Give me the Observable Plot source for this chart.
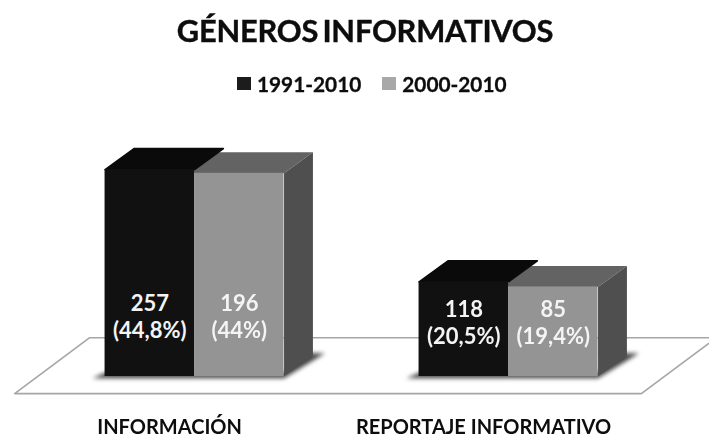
<!DOCTYPE html>
<html><head><meta charset="utf-8">
<script src="https://cdn.jsdelivr.net/npm/d3@7"></script>
<script src="https://cdn.jsdelivr.net/npm/@observablehq/plot@0.6"></script>
<style>
html,body{margin:0;padding:0;background:#fff;width:709px;height:438px;overflow:hidden}
#wrap{filter:blur(0.6px);font-family:Lato,sans-serif;color:#0d0d0d;font-weight:700}
#title{position:absolute;left:0;width:730px;top:12px;text-align:center;font-size:30.8px;font-weight:700;line-height:38px;word-spacing:-3px;letter-spacing:-.2px;-webkit-text-stroke:.4px #0d0d0d}
#legend{position:absolute;top:70px;left:237px;height:26px;display:flex;align-items:center;font-size:20.8px;-webkit-text-stroke:.3px #0d0d0d}
#legend i{display:inline-block;width:14px;height:13px;margin-right:6px}
#legend span{margin-right:21px}
#chart{position:absolute;left:0;top:110px}
#chart svg text{paint-order:stroke}
svg{display:block}
</style></head><body>
<div id="wrap">
<div id="title"></div>
<div id="legend"></div>
<div id="chart"></div>
</div>
<script>
const titleText = "GÉNEROS INFORMATIVOS";
const categories = ["INFORMACIÓN", "REPORTAJE INFORMATIVO"];
const seriesNames = ["1991-2010", "2000-2010"];
const counts1991 = [257, 118];
const counts2000 = [196, 85];
const pct1991 = [44.8, 20.5];
const pct2000 = [44, 19.4];
const pctLabels1991 = ["44,8%", "20,5%"];
const pctLabels2000 = ["44%", "19,4%"];
const colFront = ["#111111", "#949494"];
const colTop = ["#0a0a0a", "#636363"];
const colSide = ["#111111", "#4f4f4f"];

document.getElementById("title").textContent = titleText;
document.getElementById("legend").innerHTML = seriesNames.map((s, i) =>
  `<i style="background:${i ? "#a8a8a8" : "#1c1c1c"}"></i><span>${s}</span>`).join("");

const barW = 0.285, depthX = 0.092, depthY = 4.55, underlap = 0.02;
const bars = [];
categories.forEach((c, i) => {
  bars.push({cat: i, s: 0, x1: i - barW, x2: i, pct: pct1991[i], count: counts1991[i], label: pctLabels1991[i]});
  bars.push({cat: i, s: 1, x1: i, x2: i + barW, pct: pct2000[i], count: counts2000[i], label: pctLabels2000[i]});
});
const poly = (id, fill, stroke, pts) => pts.map(([x, y]) => ({id, fill, stroke, x, y}));
const faces = [];
for (const s of [1, 0]) for (const b of bars.filter(d => d.s === s)) {
  const id = `${b.cat}-${s}`;
  const left = s ? b.x1 - underlap : b.x1;
  faces.push(...poly("top" + id, colTop[s], s ? "none" : colTop[s], [
    [left, b.pct], [left + depthX, b.pct + depthY], [b.x2 + depthX, b.pct + depthY], [b.x2, b.pct], [left, b.pct]]));
  if (s) faces.push(...poly("side" + id, colSide[s], "none", [
    [b.x2, 0], [b.x2 + depthX, depthY], [b.x2 + depthX, b.pct + depthY], [b.x2, b.pct], [b.x2, 0]]));
}
const shadows = [];
categories.forEach((c, i) => shadows.push(...poly("sh" + i, "#444", "none", [
  [i - barW - 0.04, -0.4], [i + barW, -0.4], [i + barW + 0.13, depthY + 0.5], [i + barW + 0.06, depthY + 0.5], [i + barW, 0.8], [i - barW, 0.8]])));

const floorFront = -3.7, floorBack = 8.4, floorLeft = -0.573, floorRight = 1.423, floorSkew = 0.239;
const floor = [[floorLeft, floorFront], [floorRight, floorFront], [floorRight + floorSkew, floorBack], [floorLeft + floorSkew, floorBack], [floorLeft, floorFront]]
  .map(([x, y]) => ({x, y}));

const chart = Plot.plot({
  width: 709, height: 328,
  marginLeft: 0, marginRight: 0, marginTop: 0, marginBottom: 40,
  style: {background: "transparent", fontFamily: "Lato, sans-serif"},
  x: {domain: [-0.618, 1.640], axis: null},
  y: {domain: [-4.76, 57.6], axis: null},
  color: {type: "identity"},
  marks: [
    Plot.line(floor, {x: "x", y: "y", stroke: "#a6a6a6", strokeWidth: 1.6, fill: "#fff"}),
    Plot.line(shadows, {x: "x", y: "y", z: "id", fill: "fill", stroke: "none", imageFilter: "blur(2px)"}),
    Plot.line(faces, {x: "x", y: "y", z: "id", fill: "fill", stroke: "stroke", strokeWidth: 1.5, strokeLinejoin: "round"}),
    Plot.rect(bars, {x1: "x1", x2: "x2", y1: 0, y2: "pct", fill: d => colFront[d.s]}),
    Plot.text(bars, {
      x: d => (d.x1 + d.x2) / 2,
      y: d => 10.8 + 0.053 * d.pct,
      text: d => `${d.count}\n(${d.label})`,
      fill: "#f4f4f4", fontSize: 22, fontWeight: 700, lineHeight: 1.25
    }),
    Plot.axisX({
      ticks: [0, 1], tickFormat: i => categories[i], tickSize: 0, tickPadding: 21, dx: -25,
      fontSize: 20, fontWeight: 700, fill: "#0d0d0d", label: null
    })
  ]
});
document.getElementById("chart").append(chart);
</script>
</body></html>
